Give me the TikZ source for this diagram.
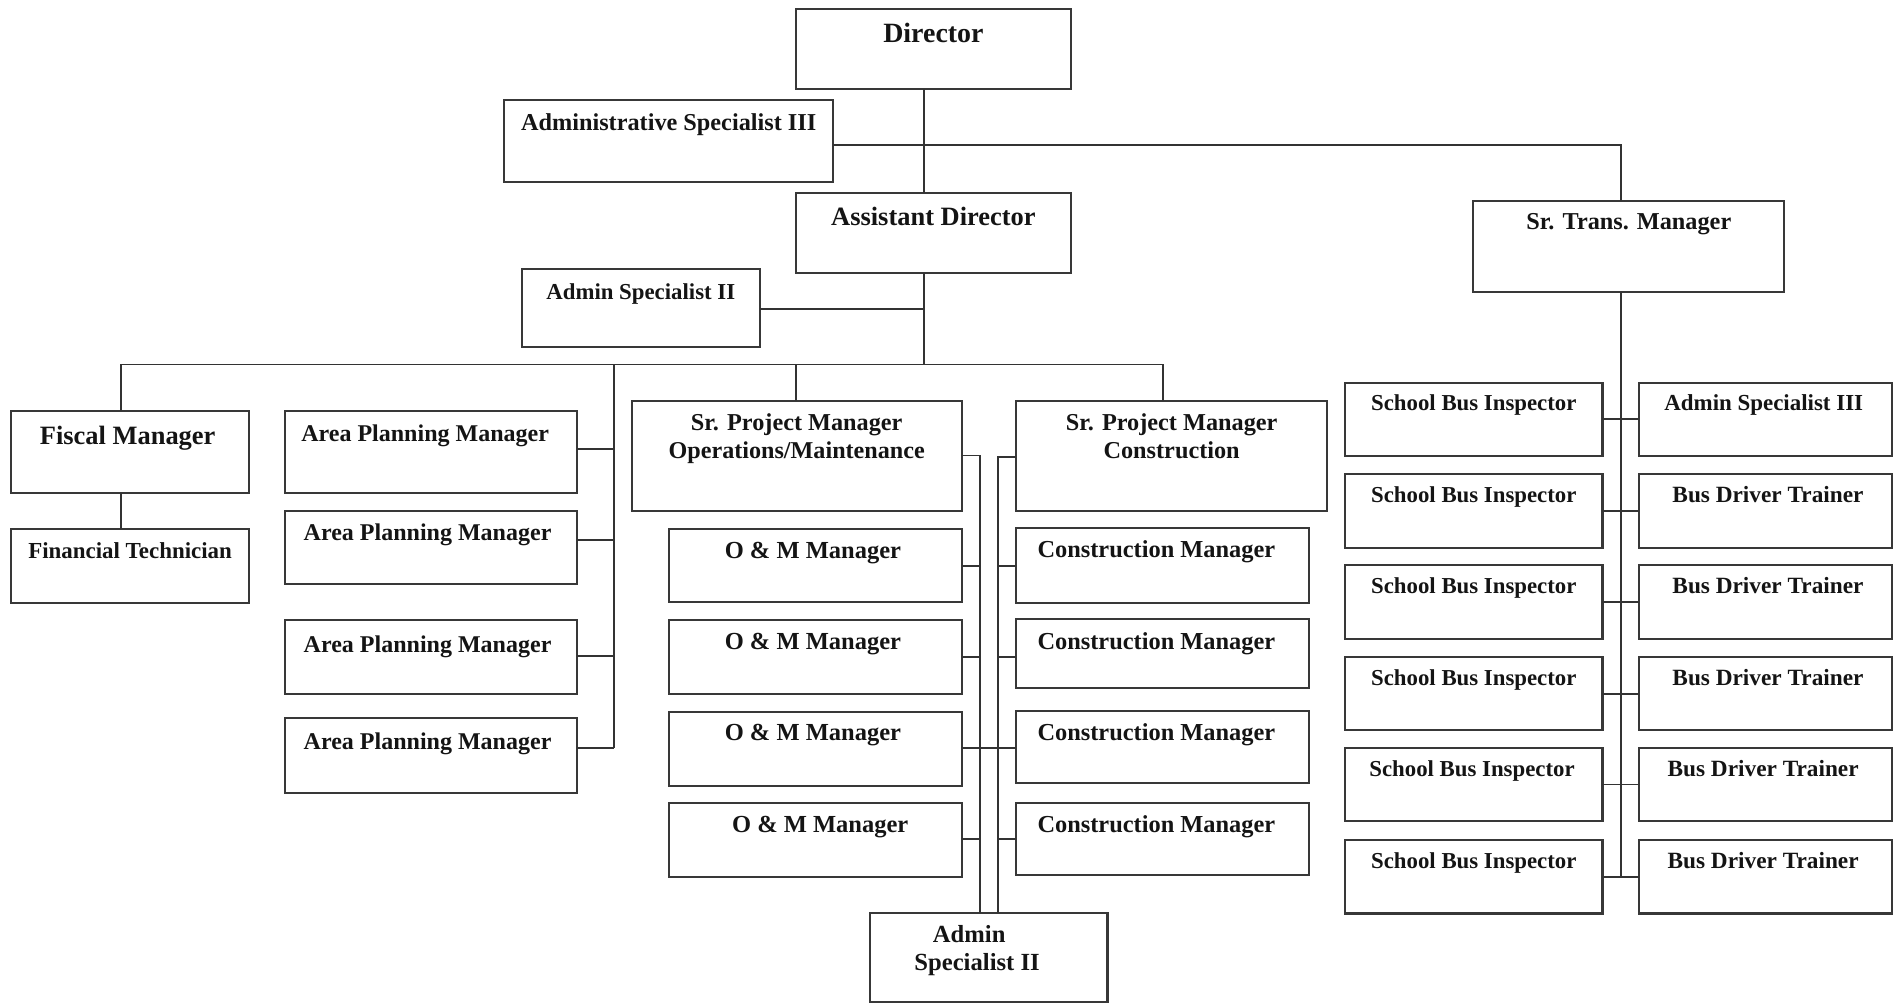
\documentclass[tikz,border=0pt]{standalone}
\usepackage{fontspec}
\setmainfont{Liberation Serif}
\newcommand\fz[1]{\fontsize{#1}{#1}\selectfont\bfseries}
\tikzset{
  ob/.style={draw=black!78, line width=1.8pt, rectangle, inner sep=0pt, outer sep=0pt},
  t/.style n args={3}{label={[anchor=base, yshift=-#2pt, inner sep=0pt, font=\fz{#1}, text=black!92]north:{#3}}},
  tx/.style n args={4}{label={[anchor=base, xshift=#4pt, yshift=-#2pt, inner sep=0pt, font=\fz{#1}, text=black!92]north:{#3}}},
  ln/.style={draw=black!80, line width=1.6pt},
}
\newcommand\ob[6]{\node[ob, minimum width={(#4)-(#2)}, minimum height={(#5)-(#3)}, #6] (#1) at ({((#2)+(#4))/2},{((#3)+(#5))/2}) {};}
\begin{document}
\begin{tikzpicture}[x=1pt,y=-1pt]
\useasboundingbox (0,0) rectangle (1568,827.7);
% top
\ob{dir}{656}{7.4}{883}{73.7}{t={23}{27.8}{Director}}
\ob{as3}{415.5}{82.4}{687}{149.8}{t={20}{25.3}{Administrative Specialist III}}
\ob{ad}{656}{158.8}{883}{225.3}{t={21.8}{27.5}{Assistant Director}}
\ob{as2}{430}{222}{626.5}{285.8}{t={18.8}{25.3}{Admin Specialist II}}
\ob{stm}{1214.6}{165.4}{1471}{240.5}{t={20}{24}{Sr. Trans. Manager}}
% left
\ob{fm}{9}{338.8}{205.5}{406.7}{tx={21.8}{28}{Fiscal Manager}{-2}}
\ob{ft}{9}{436.1}{205.5}{496.8}{t={18.9}{24.7}{Financial Technician}}
\ob{apm1}{235}{338.8}{476}{406.7}{tx={19.8}{25.3}{Area Planning Manager}{-5}}
\ob{apm2}{235}{421.3}{476}{481.7}{tx={19.8}{24.4}{Area Planning Manager}{-3}}
\ob{apm3}{235}{511.1}{476}{572.4}{tx={19.8}{26.7}{Area Planning Manager}{-3}}
\ob{apm4}{235}{592.2}{476}{654}{tx={19.8}{25.5}{Area Planning Manager}{-3}}
% O&M
\ob{spo}{520.8}{330.6}{792.8}{421}{t={20}{24.4}{Sr. Project Manager}, t={19.9}{47.2}{Operations/Maintenance}}
\ob{om1}{551.5}{436.4}{792.8}{496.6}{tx={20.2}{24}{O \& M Manager}{-2}}
\ob{om2}{551.5}{511.1}{792.8}{572.1}{tx={20.2}{24}{O \& M Manager}{-2}}
\ob{om3}{551.5}{586.7}{792.8}{647.7}{tx={20.2}{24}{O \& M Manager}{-2}}
\ob{om4}{551.5}{662.3}{792.8}{722.7}{tx={20.2}{24}{O \& M Manager}{4}}
% construction
\ob{spc}{837.6}{330.6}{1094.2}{421.3}{t={20}{24}{Sr. Project Manager}, t={20}{47.3}{Construction}}
\ob{cm1}{837.6}{435.5}{1079}{496.8}{tx={20.1}{24.5}{Construction Manager}{-5}}
\ob{cm2}{837.6}{510.6}{1079}{567.5}{tx={20.1}{24.5}{Construction Manager}{-5}}
\ob{cm3}{837.6}{586.2}{1079}{645.8}{tx={20.1}{24.5}{Construction Manager}{-5}}
\ob{cm4}{837.6}{661.7}{1079}{721.4}{tx={20.1}{24.5}{Construction Manager}{-5}}
\ob{asb}{717}{752.4}{913}{826}{tx={20.3}{24.6}{Admin}{-16}, tx={20.3}{47.6}{Specialist II}{-9.5}}
% transport
\ob{sbi1}{1109}{315.5}{1321}{376}{t={18.8}{23.3}{School Bus Inspector}}
\ob{sbi2}{1109}{391}{1321}{451.5}{t={18.8}{23.3}{School Bus Inspector}}
\ob{sbi3}{1109}{466}{1321}{526.5}{t={18.8}{23.3}{School Bus Inspector}}
\ob{sbi4}{1109}{541.5}{1321}{602}{t={18.8}{23.3}{School Bus Inspector}}
\ob{sbi5}{1109}{616.5}{1321}{677}{tx={18.8}{23.3}{School Bus Inspector}{-1.5}}
\ob{sbi6}{1109}{692.5}{1321}{753}{t={18.8}{23.3}{School Bus Inspector}}
\ob{rt1}{1351}{315.5}{1560}{376}{tx={18.9}{23.3}{Admin Specialist III}{-1.5}}
\ob{rt2}{1351}{391}{1560}{451.5}{tx={19.2}{23.3}{Bus Driver Trainer}{2}}
\ob{rt3}{1351}{466}{1560}{526.5}{tx={19.2}{23.3}{Bus Driver Trainer}{2}}
\ob{rt4}{1351}{541.5}{1560}{602}{tx={19.2}{23.3}{Bus Driver Trainer}{2}}
\ob{rt5}{1351}{616.5}{1560}{677}{tx={19.2}{23.3}{Bus Driver Trainer}{-2}}
\ob{rt6}{1351}{692.5}{1560}{753}{tx={19.2}{23.3}{Bus Driver Trainer}{-2}}
% connectors
\coordinate (j1) at (762,119.5);
\coordinate (js) at (1336,119.5);
\draw[ln] (dir.south -| j1) -- (ad.north -| j1);
\draw[ln] (as3.east |- j1) -- (js) -- (stm.north -| js);
\coordinate (jb) at (762,300.5);
\coordinate (j2) at (762,255);
\draw[ln] (ad.south -| jb) -- (jb);
\draw[ln] (as2.east |- j2) -- (j2);
\coordinate (bl) at (99.5,300.5);
\coordinate (br) at (958.5,300.5);
\coordinate (ba) at (506,300.5);
\coordinate (bo) at (656,300.5);
\draw[ln] (fm.north -| bl) -- (bl) -- (br) -- (spc.north -| br);
\draw[ln] (bo) -- (spo.north -| bo);
\draw[ln] (fm.south -| bl) -- (ft.north -| bl);
\coordinate (a1) at (506,370);
\coordinate (a2) at (506,445.5);
\coordinate (a3) at (506,541);
\coordinate (a4) at (506,616.5);
\draw[ln] (ba) -- (a4);
\foreach \i in {1,2,3,4} { \draw[ln] (apm\i.east |- a\i) -- (a\i); }
\coordinate (vo) at (808,375.5);
\coordinate (vc) at (822.5,376.5);
\draw[ln] (spo.east |- vo) -- (vo) -- (asb.north -| vo);
\draw[ln] (spc.west |- vc) -- (vc) -- (asb.north -| vc);
\coordinate (r1) at (808,466.3);
\coordinate (r2) at (808,541.4);
\coordinate (r3) at (808,616.9);
\coordinate (r4) at (808,691.9);
\foreach \i in {1,2,4} {
  \draw[ln] (om\i.east |- r\i) -- (r\i);
  \draw[ln] (cm\i.west |- r\i) -- (r\i -| vc);
}
\draw[ln] (om3.east |- r3) -- (cm3.west |- r3);
\coordinate (sb) at (1336,722.75);
\draw[ln] (stm.south -| sb) -- (sb);
\foreach \i in {1,...,6} { \draw[ln] (sbi\i.east) -- (rt\i.west); }
\end{tikzpicture}
\end{document}
